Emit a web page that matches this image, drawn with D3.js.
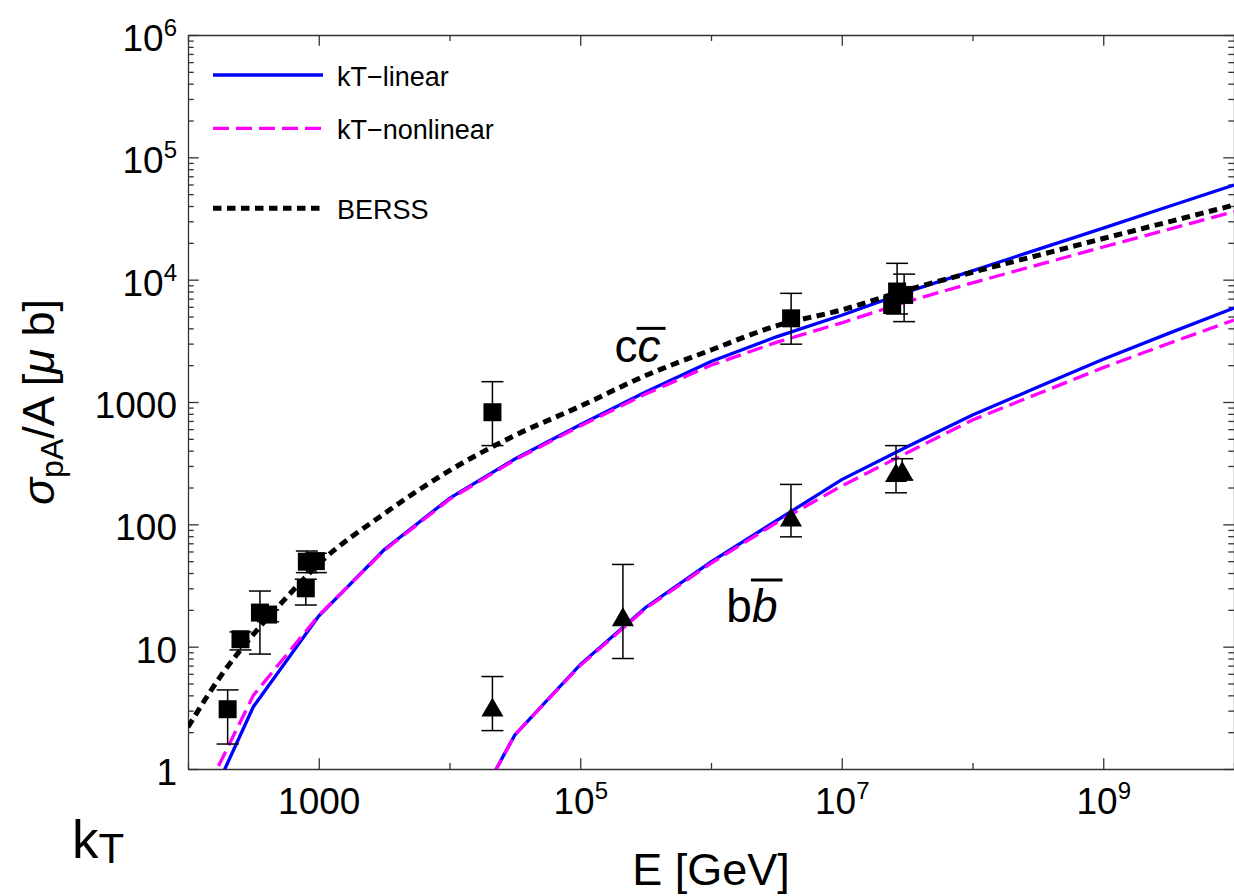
<!DOCTYPE html>
<html><head><meta charset="utf-8">
<script src="https://cdn.jsdelivr.net/npm/d3@7"></script>
<style>
html,body{margin:0;padding:0;background:#fff;}
svg{display:block;font-family:"Liberation Sans",Arial,Helvetica,sans-serif;}
</style></head>
<body><svg id="chart" width="1234" height="896"></svg>
<script>
// ---------- data ----------
const ktEnergy = [1e2, 3.162e2, 1e3, 3.162e3, 1e4, 3.162e4, 1e5, 3.162e5, 1e6, 3.162e6, 1e7, 3.162e7, 1e8, 3.162e8, 1e9, 3.162e9, 1e10];
const ccLinear    = [0.22, 3.23, 17.8, 62, 163, 342, 652, 1208, 2146, 3411, 5120, 7940, 11800, 17700, 26400, 39600, 59400];
const ccNonlinear = [0.33, 4.0, 18.0, 61, 160, 336, 637, 1160, 1995, 3070, 4440, 6610, 9420, 13200, 18500, 25800, 36000];
const berssEnergy = [1e2, 1.78e2, 3.162e2, 5.62e2, 1e3, 3.162e3, 1e4, 3.162e4, 1e5, 3.162e5, 1e6, 3.162e6, 1e7, 3.162e7, 1e8, 3.162e8, 1e9, 3.162e9, 1e10];
const ccBERSS     = [2.2, 5.75, 12.6, 25, 47.6, 122, 275, 533, 923, 1645, 2660, 4190, 5660, 8240, 11500, 15800, 21700, 29700, 40700];
const bbEnergy = [1e4, 3.162e4, 1e5, 3.162e5, 1e6, 3.162e6, 1e7, 3.162e7, 1e8, 3.162e8, 1e9, 3.162e9, 1e10];
const bbLinear    = [0.2, 1.9, 7.14, 20.9, 49.3, 107, 232, 430, 783, 1324, 2235, 3640, 5860];
const bbNonlinear = [0.2, 1.9, 7.0, 20.5, 48, 103, 206, 385, 713, 1167, 1910, 3010, 4680];

// measured points: energy, value, error low, error high
const ccDataE  = [201, 252, 355, 410, 796, 811, 950, 21300, 4.1e6, 2.43e7, 2.65e7, 3.0e7];
const ccDataV  = [3.08, 11.5, 19.0, 18.3, 30, 49.5, 50, 825, 4830, 6200, 8000, 7500];
const ccDataLo = [1.6, 9.4, 8.7, 16.0, 21.9, 40.3, 40.3, 440, 2970, null, 5240, 4540];
const ccDataHi = [4.43, 13.2, 28.5, 20.0, 35.6, 60.5, 58, 1466, 7730, null, 13600, 11100];
const bbDataE  = [21300, 2.12e5, 4.09e6, 2.6e7, 2.9e7];
const bbDataV  = [3.21, 17.6, 115, 265, 275];
const bbDataLo = [2.06, 8.0, 79, 181, 230];
const bbDataHi = [5.7, 47, 212, 440, 344];

// axis ticks
const xMajorTicks = [1e3, 1e5, 1e7, 1e9];
const xTickLabels = ["1000", "10^5", "10^7", "10^9"];
const xMinorTicks = [1e2, 1e4, 1e6, 1e8, 1e10];
const yMajorTicks = [1, 10, 100, 1000, 1e4, 1e5, 1e6];
const yTickLabels = ["1", "10", "100", "1000", "10^4", "10^5", "10^6"];
const yMinorMultipliers = [2, 3, 4, 5, 6, 7, 8, 9];
const seriesNames = ["kT\u2212linear", "kT\u2212nonlinear", "BERSS"];

// ---------- layout ----------
const X0 = 188, X1 = 1234, Y0 = 35, Y1 = 769;
const svg = d3.select("#chart");
const x = d3.scaleLog().domain([1e2, 1e10]).range([X0, X1]);
const y = d3.scaleLog().domain([1, 1e6]).range([Y1, Y0]);
const AX = "#333";

svg.append("defs").append("clipPath").attr("id", "plotclip")
  .append("rect").attr("x", X0).attr("y", Y0).attr("width", X1 - X0).attr("height", Y1 - Y0);

const yMinorTicks = [];
for (let k = 0; k < 6; k++) yMinorMultipliers.forEach(m => yMinorTicks.push(m * Math.pow(10, k)));

function styleAxis(g) {
  g.select(".domain").attr("stroke", AX).attr("stroke-width", 1.3);
  g.selectAll(".tick line").attr("stroke", AX).attr("stroke-width", 1.3);
  g.selectAll(".tick text").attr("fill", "#000").style("font-size", "37px")
    .style("font-family", '"Liberation Sans",Arial,Helvetica,sans-serif');
}
function powerLabel(sel, label) {
  sel.text(null);
  if (label.includes("^")) {
    const p = label.split("^");
    sel.append("tspan").text(p[0]);
    sel.append("tspan").attr("dy", -15).style("font-size", "24px").text(p[1]);
  } else sel.text(label);
}

// bottom axis
const gxb = svg.append("g").attr("transform", `translate(0,${Y1})`)
  .call(d3.axisBottom(x).tickValues(xMajorTicks).tickSizeInner(-10.7).tickSizeOuter(0).tickPadding(18.7).tickFormat(() => ""));
styleAxis(gxb);
gxb.selectAll(".tick text").each(function(d, i) { powerLabel(d3.select(this), xTickLabels[i]); });
const gxbm = svg.append("g").attr("transform", `translate(0,${Y1})`)
  .call(d3.axisBottom(x).tickValues(xMinorTicks).tickSizeInner(-6).tickSizeOuter(0).tickFormat(() => ""));
styleAxis(gxbm); gxbm.select(".domain").remove();

// top axis
const gxt = svg.append("g").attr("transform", `translate(0,${Y0})`)
  .call(d3.axisTop(x).tickValues(xMajorTicks).tickSizeInner(-10.7).tickSizeOuter(0).tickFormat(() => ""));
styleAxis(gxt);
const gxtm = svg.append("g").attr("transform", `translate(0,${Y0})`)
  .call(d3.axisTop(x).tickValues(xMinorTicks).tickSizeInner(-6).tickSizeOuter(0).tickFormat(() => ""));
styleAxis(gxtm); gxtm.select(".domain").remove();

// left axis
const gyl = svg.append("g").attr("transform", `translate(${X0},0)`)
  .call(d3.axisLeft(y).tickValues(yMajorTicks).tickSizeInner(-10.7).tickSizeOuter(0).tickPadding(11).tickFormat(() => ""));
styleAxis(gyl);
gyl.selectAll(".tick text").attr("dy", "0.42em").each(function(d, i) { powerLabel(d3.select(this), yTickLabels[i]); });
const gylm = svg.append("g").attr("transform", `translate(${X0},0)`)
  .call(d3.axisLeft(y).tickValues(yMinorTicks).tickSizeInner(-5.7).tickSizeOuter(0).tickFormat(() => ""));
styleAxis(gylm); gylm.select(".domain").remove();

// right axis
const gyr = svg.append("g").attr("transform", `translate(${X1},0)`)
  .call(d3.axisRight(y).tickValues(yMajorTicks).tickSizeInner(-10.7).tickSizeOuter(0).tickFormat(() => ""));
styleAxis(gyr);
const gyrm = svg.append("g").attr("transform", `translate(${X1},0)`)
  .call(d3.axisRight(y).tickValues(yMinorTicks).tickSizeInner(-5.7).tickSizeOuter(0).tickFormat(() => ""));
styleAxis(gyrm); gyrm.select(".domain").remove();

// ---------- curves ----------
const styles = [
  { color: "#0000ff", width: 3.3, dash: null },
  { color: "#ff00ff", width: 3.3, dash: "16,7" },
  { color: "#000000", width: 5, dash: "8.5,5.5" }
];
const plot = svg.append("g").attr("clip-path", "url(#plotclip)");
const lineLin = d3.line().x(d => x(d[0])).y(d => y(d[1]));
const lineSmooth = d3.line().x(d => x(d[0])).y(d => y(d[1])).curve(d3.curveMonotoneX);
function drawCurve(E, V, st, gen) {
  plot.append("path").datum(E.map((e, i) => [e, V[i]]))
    .attr("d", gen).attr("fill", "none")
    .attr("stroke", st.color).attr("stroke-width", st.width)
    .attr("stroke-dasharray", st.dash);
}
drawCurve(ktEnergy, ccLinear, styles[0], lineLin);
drawCurve(bbEnergy, bbLinear, styles[0], lineLin);
drawCurve(ktEnergy, ccNonlinear, styles[1], lineLin);
drawCurve(bbEnergy, bbNonlinear, styles[1], lineLin);
drawCurve(berssEnergy, ccBERSS, styles[2], lineSmooth);

// ---------- measured points ----------
const pts = svg.append("g");
function drawErr(E, V, Lo, Hi) {
  E.forEach((e, i) => {
    if (Lo[i] == null) return;
    const cx = x(e);
    pts.append("line").attr("x1", cx).attr("x2", cx).attr("y1", y(Lo[i])).attr("y2", y(Hi[i]))
      .attr("stroke", "#000").attr("stroke-width", 1.5);
    [Lo[i], Hi[i]].forEach(v => pts.append("line").attr("x1", cx - 11).attr("x2", cx + 11)
      .attr("y1", y(v)).attr("y2", y(v)).attr("stroke", "#000").attr("stroke-width", 1.5));
  });
}
drawErr(ccDataE, ccDataV, ccDataLo, ccDataHi);
drawErr(bbDataE, bbDataV, bbDataLo, bbDataHi);
const sq = d3.symbol().type(d3.symbolSquare).size(18 * 18);
ccDataE.forEach((e, i) => pts.append("path").attr("d", sq())
  .attr("transform", `translate(${x(e)},${y(ccDataV[i])})`).attr("fill", "#000"));
const tri = d3.symbol().type(d3.symbolTriangle).size(210);
bbDataE.forEach((e, i) => pts.append("path").attr("d", tri())
  .attr("transform", `translate(${x(e)},${y(bbDataV[i]) + 3.2})`).attr("fill", "#000"));

// ---------- legend ----------
const legY = [75, 128.3, 208.3];
seriesNames.forEach((name, i) => {
  svg.append("line").attr("x1", 213).attr("x2", 323).attr("y1", legY[i]).attr("y2", legY[i])
    .attr("stroke", styles[i].color).attr("stroke-width", styles[i].width)
    .attr("stroke-dasharray", styles[i].dash);
  svg.append("text").attr("x", 337).attr("y", legY[i] + 10.7).style("font-size", "27px")
    .attr("fill", "#000").text(name);
});

// ---------- annotations ----------
function quarkLabel(E, V, letter, overOffset) {
  const t = svg.append("text").attr("x", x(E)).attr("y", y(V)).style("font-size", "46px").attr("fill", "#000");
  t.append("tspan").text(letter);
  t.append("tspan").style("font-style", "italic").text(letter);
  const ext = t.node().getExtentOfChar(1);
  const yb = y(V) - overOffset;
  svg.append("line").attr("x1", ext.x - 1).attr("x2", ext.x + ext.width + 5)
    .attr("y1", yb).attr("y2", yb).attr("stroke", "#000").attr("stroke-width", 3);
}
quarkLabel(1.83e5, 2120, "c", 33.7);
quarkLabel(1.31e6, 16, "b", 41.7);

// ---------- axis titles ----------
svg.append("text").attr("x", (X0 + X1) / 2).attr("y", 885).attr("text-anchor", "middle")
  .style("font-size", "45px").attr("fill", "#000").text("E [GeV]");
const yt = svg.append("text").attr("transform", `translate(54,${(Y0 + Y1) / 2}) rotate(-90)`)
  .attr("text-anchor", "middle").style("font-size", "45px").attr("fill", "#000");
yt.append("tspan").style("font-style", "italic").text("\u03c3");
yt.append("tspan").attr("dy", 9).style("font-size", "32px").text("pA");
yt.append("tspan").attr("dy", -9).text("/A [");
yt.append("tspan").style("font-style", "italic").text("\u03bc");
yt.append("tspan").text(" b]");
const kt = svg.append("text").attr("x", 72).attr("y", 858).style("font-size", "53px").attr("fill", "#000");
kt.append("tspan").text("k");
kt.append("tspan").attr("dy", 5).style("font-size", "42px").text("T");
</script>
</body></html>
